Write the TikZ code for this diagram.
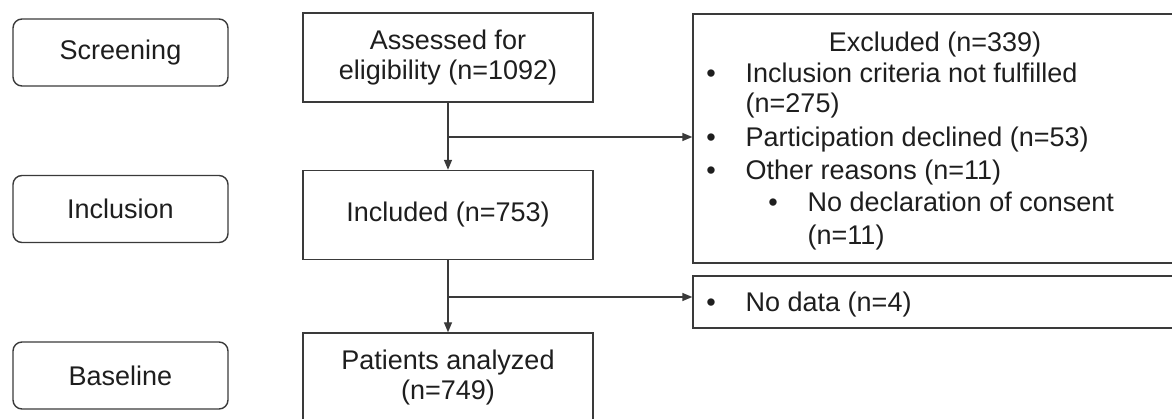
\documentclass[tikz,border=0pt]{standalone}
\usepackage{fontspec}
\setmainfont{Liberation Sans}
\usetikzlibrary{arrows.meta}
\definecolor{linec}{HTML}{3A3A3A}
\definecolor{textc}{HTML}{1E1E1E}
\begin{document}
\begin{tikzpicture}[x=1pt,y=-1pt,line width=1.4pt,
  every node/.style={font=\fontsize{27}{30}\selectfont,text=textc},
  stagebox/.style={draw=linec,rounded corners=9pt,minimum width=215pt,minimum height=67pt,inner sep=0pt},
  flowbox/.style={draw=linec,minimum width=290pt,minimum height=89pt,align=center,inner sep=0pt},
  sidebox/.style={draw=linec,minimum width=484pt,inner sep=0pt},
  txt/.style={anchor=base west,inner sep=0pt},
  bul/.style={anchor=base,inner sep=0pt},
  conn/.style={draw=linec,-{Triangle[length=10pt,width=8pt]}}]
\useasboundingbox (0,0) rectangle (1172,419);
% stage labels
\node[stagebox] (screen) at (120.5,52.5) {Screening};
\node[stagebox] (incl) at (120.5,209) {Inclusion};
\node[stagebox] (base) at (120.5,375.5) {Baseline};
% flow boxes
\node[flowbox] (assess) at (448,57.5) {Assessed for\\eligibility (n=1092)};
\node[flowbox] (included) at (448,215) {Included (n=753)};
\node[flowbox] (patients) at (448,377.5) {Patients analyzed\\(n=749)};
% side boxes
\node[sidebox,minimum height=249pt] (excl) at (935,138.5) {};
\node[sidebox,minimum height=52pt] (nodata) at (935,302) {};
% excluded text
\node[anchor=base,inner sep=0pt] (exhead) at (935,52) {Excluded (n=339)};
\node[bul] (e1b) at (711,83) {•};
\node[txt] (e1) at (745,83) {Inclusion criteria not fulfilled};
\node[txt] (e1n) at (745,113) {(n=275)};
\node[bul] (e2b) at (711,147) {•};
\node[txt] (e2) at (745,147) {Participation declined (n=53)};
\node[bul] (e3b) at (711,180) {•};
\node[txt] (e3) at (745,180) {Other reasons (n=11)};
\node[bul] (e4b) at (773,212) {•};
\node[txt] (e4) at (807,212) {No declaration of consent};
\node[txt] (e4n) at (807,245) {(n=11)};
% no data text
\node[bul] (n1b) at (711,312) {•};
\node[txt] (n1) at (745,312) {No data (n=4)};
% connectors
\coordinate (j1) at (448,137);
\coordinate (j2) at (448,297);
\draw[conn] (assess.south) -- (included.north);
\draw[conn] (j1) -- (j1 -| excl.west);
\draw[conn] (included.south) -- (patients.north);
\draw[conn] (j2) -- (j2 -| nodata.west);
\end{tikzpicture}
\end{document}
